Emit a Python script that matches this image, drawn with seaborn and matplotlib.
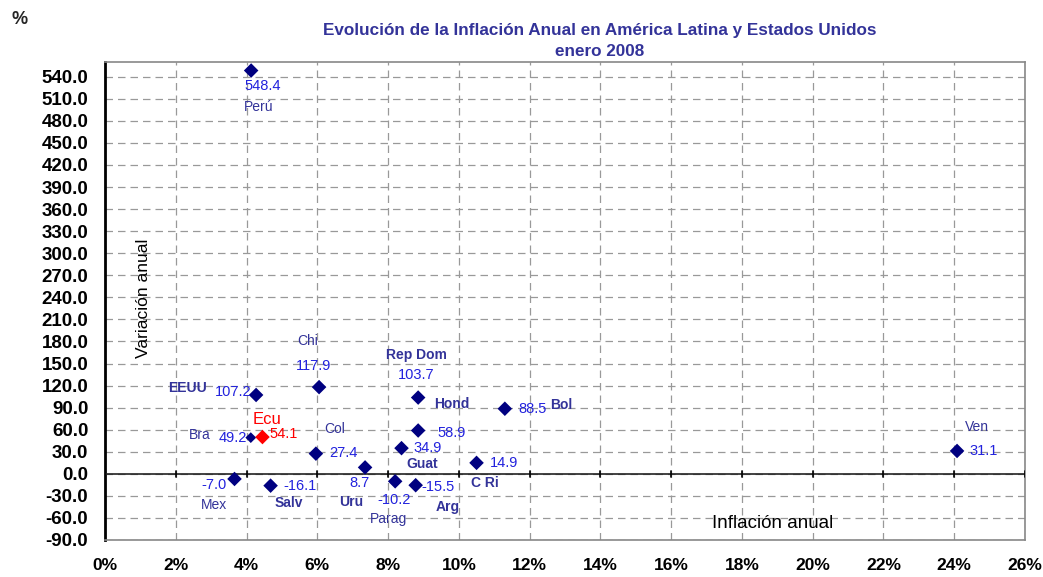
import matplotlib
matplotlib.use("Agg")
import matplotlib.pyplot as plt
import seaborn as sns
import pandas as pd
import numpy as np
from matplotlib.ticker import MultipleLocator, FuncFormatter

countries = ["Perú", "EEUU", "Chi", "Rep Dom", "Bol", "Hond", "Bra", "Ecu", "Guat", "Col",
             "C Ri", "Uru", "Ven", "Mex", "Salv", "Parag", "Arg"]
inflation = [4.13, 4.27, 6.05, 8.85, 11.3, 8.85, 4.12, 4.45, 8.38, 5.96,
             10.5, 7.35, 24.08, 3.66, 4.68, 8.2, 8.78]
variation = [548.4, 107.2, 117.9, 103.7, 88.5, 58.9, 49.2, 50.0, 34.9, 27.4,
             14.9, 8.7, 31.1, -7.0, -16.1, -10.2, -15.5]
value_labels = ["548.4", "107.2", "117.9", "103.7", "88.5", "58.9", "49.2", "54.1", "34.9", "27.4",
                "14.9", "8.7", "31.1", "-7.0", "-16.1", "-10.2", "-15.5"]
bold_names = ["EEUU", "Rep Dom", "Hond", "Bol", "Salv", "Uru", "Guat", "C Ri", "Arg"]
y_ticks = list(range(-90, 541, 30))
x_ticks = list(range(0, 27, 2))

# label offsets in pixels relative to the point: (dx, dy, ha)
name_off = {
    "Perú": (-7, -36, "left"), "EEUU": (-88, 7, "left"), "Chi": (-11, 46, "center"),
    "Rep Dom": (-2, 43, "center"), "Bol": (45, 4, "left"), "Hond": (16, 27, "left"),
    "Bra": (-62, 3, "left"), "Ecu": (-10, 18, "left"), "Guat": (5, -16, "left"),
    "Col": (19, 25, "center"), "C Ri": (-6, -20, "left"), "Uru": (-14, -35, "center"),
    "Ven": (20, 24, "center"), "Mex": (-21, -26, "center"), "Salv": (4, -17, "left"),
    "Parag": (-7, -38, "center"), "Arg": (20, -22, "left"),
}
val_off = {
    "Perú": (-7, -15, "left"), "EEUU": (-5, 3, "right"), "Chi": (-6, 21, "center"),
    "Rep Dom": (-2, 23, "center"), "Bol": (14, 0, "left"), "Hond": (19, -2, "left"),
    "Bra": (-4, 0, "right"), "Ecu": (7, 3, "left"), "Guat": (12, 0, "left"),
    "Col": (13, 1, "left"), "C Ri": (13, 0, "left"), "Uru": (-6, -16, "center"),
    "Ven": (12, 0, "left"), "Mex": (-8, -6, "right"), "Salv": (13, 0, "left"),
    "Parag": (-1, -19, "center"), "Arg": (6, -2, "left"),
}

df = pd.DataFrame({"country": countries, "x": inflation, "y": variation})
df["grp"] = np.where(df["country"] == "Ecu", "Ecu", "other")
df["sz"] = np.where(df["country"] == "Bra", 30, 55)

sns.set_style("white")
plt.rcParams["font.family"] = ["Liberation Sans", "DejaVu Sans"]

fig = plt.figure(figsize=(10.43, 5.77), dpi=100)
ax = fig.add_axes([105 / 1043, 1 - 540 / 577, 920 / 1043, 478 / 577])

sns.scatterplot(data=df, x="x", y="y", hue="grp", palette={"other": "#000080", "Ecu": "#ff0000"},
                size="sz", sizes=(30, 55), marker="D", edgecolor="none", legend=False, ax=ax, zorder=5)

ax.set_xlim(0, 26)
ax.set_ylim(-90, 560)
ax.set_xticks(x_ticks)
ax.set_yticks(y_ticks)
ax.xaxis.set_major_formatter(FuncFormatter(lambda v, p: f"{int(v)}%"))
ax.yaxis.set_major_formatter(FuncFormatter(lambda v, p: f"{v:.1f}"))
ax.grid(True, linestyle=(0, (6, 4)), color="#999999", linewidth=0.9)
ax.set_axisbelow(True)
ax.axhline(0, color="#222222", linewidth=1.2, zorder=3)
for xt in x_ticks:
    ax.plot([xt, xt], [-4, 4], color="black", linewidth=1.2, zorder=3)

for s in ["top", "right", "bottom"]:
    ax.spines[s].set_color("#888888")
    ax.spines[s].set_linewidth(1.2)
ax.spines["left"].set_color("black")
ax.spines["left"].set_linewidth(2)
ax.yaxis.set_minor_locator(MultipleLocator(6))
ax.tick_params(axis="y", which="minor", length=5, width=1.5, color="black", direction="in")
ax.tick_params(axis="y", which="major", length=5, width=1.5, color="black", direction="in", pad=12)
ax.tick_params(axis="x", which="major", length=0, pad=13)
for lab in ax.get_yticklabels():
    lab.set_fontweight("bold")
    lab.set_fontsize(13.5)
    lab.set_color("black")
for lab in ax.get_xticklabels():
    lab.set_fontweight("bold")
    lab.set_fontsize(12.5)
    lab.set_color("black")

ax.set_xlabel("")
ax.set_ylabel("")
ax.text((712 - 105) / 920, (540 - 524) / 478, "Inflación anual", transform=ax.transAxes, fontsize=13.5,
        color="black", va="center", ha="left")
ax.text((143 - 105) / 920, (540 - 298) / 478, "Variación anual", transform=ax.transAxes, fontsize=12.5,
        color="black", rotation=90, va="center", ha="center")

name_col = "#333399"
val_col = "#2222dd"
for c, x, y, v in zip(countries, inflation, variation, value_labels):
    nx, ny, nha = name_off[c]
    vx, vy, vha = val_off[c]
    red = c == "Ecu"
    ax.annotate(c, (x, y), xytext=(nx, ny), textcoords="offset pixels", ha=nha, va="center",
                fontsize=12 if red else 10, color="#ff0000" if red else name_col,
                fontweight="bold" if c in bold_names else "normal", zorder=6)
    ax.annotate(v, (x, y), xytext=(vx, vy), textcoords="offset pixels", ha=vha, va="center",
                fontsize=10.5, color="#ff0000" if red else val_col, zorder=6)

fig.text(600 / 1043, 1 - 30 / 577, "Evolución de la Inflación Anual en América Latina y Estados Unidos",
         ha="center", va="center", fontsize=12.3, fontweight="bold", color="#333399")
fig.text(600 / 1043, 1 - 51 / 577, "enero 2008", ha="center", va="center", fontsize=12.3,
         fontweight="bold", color="#333399")
fig.text(11 / 1043, 1 - 19 / 577, "%", ha="left", va="center", fontsize=13, fontweight="bold")

fig.savefig("out.png", dpi=100)
